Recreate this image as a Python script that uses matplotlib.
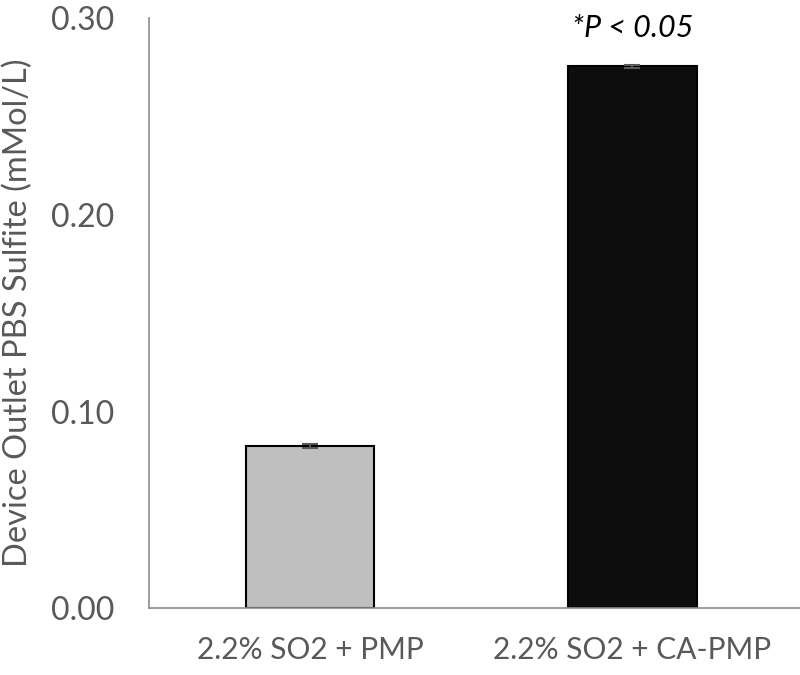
import numpy as np
import matplotlib.pyplot as plt

plt.rcParams['font.family'] = ['Lato', 'DejaVu Sans']

groups = ["2.2% SO2 + PMP", "2.2% SO2 + CA-PMP"]
values = [0.0825, 0.2755]
errors = [0.0008, 0.0008]
colors = ["#bfbfbf", "#0d0d0d"]

fig = plt.figure(figsize=(8, 6.75), dpi=100)
ax = fig.add_axes([0.186, 0.099, 0.814, 0.874])

x = np.arange(len(groups))
ax.bar(x, values, width=0.4, color=colors, edgecolor="black", linewidth=1.5,
       yerr=errors, error_kw=dict(ecolor="#595959", elinewidth=1.5, capsize=6, capthick=1.5))

ax.set_xlim(-0.5, 1.52)
ax.set_ylim(0, 0.30)
ax.set_yticks([0, 0.1, 0.2, 0.3])
ax.set_yticklabels(["0.00", "0.10", "0.20", "0.30"])
ax.set_xticks(x)
ax.set_xticklabels(groups)
ax.tick_params(length=0, labelsize=23, colors="#595959")
ax.tick_params(axis="x", pad=20, labelsize=21.5)
ax.tick_params(axis="y", pad=25)
ax.set_ylabel("Device Outlet PBS Sulfite (mMol/L)", fontsize=23.5, color="#595959")
ax.yaxis.set_label_coords(-0.178, 0.5)

for s in ["top", "right"]:
    ax.spines[s].set_visible(False)
for s in ["left", "bottom"]:
    ax.spines[s].set_color("#8c8c8c")
    ax.spines[s].set_linewidth(1.2)

ax.text(1, 0.288, "*P < 0.05", ha="center", va="bottom", fontsize=22, style="italic", color="black")

plt.savefig("out.png")
